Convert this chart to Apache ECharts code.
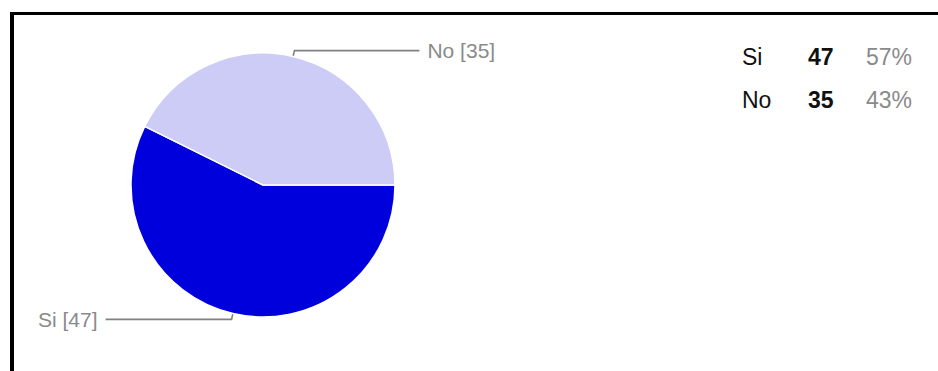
<!DOCTYPE html>
<html>
<head>
<meta charset="utf-8">
<script src="https://cdn.jsdelivr.net/npm/echarts@6/dist/echarts.min.js"></script>
<style>
  html, body { margin: 0; padding: 0; background: #fff; }
  #chart { width: 938px; height: 371px; }
</style>
</head>
<body>
<div id="chart"></div>
<script>
const categories = ['Si', 'No'];
const counts = [47, 35];
const colors = ['#0000DC', '#CCCCF7'];

const total = counts.reduce((a, b) => a + b, 0);
const FONT = '"Liberation Sans", Arial, sans-serif';

const chart = echarts.init(document.getElementById('chart'), null, { renderer: 'svg' });

const data = categories.map((name, i) => ({
  name: name,
  value: counts[i],
  itemStyle: { color: colors[i] },
  labelLine: { length: 6, length2: i === 0 ? 126 : 125 }
}));

chart.setOption({
  animation: false,
  backgroundColor: '#ffffff',
  legend: {
    orient: 'vertical',
    left: 732,
    top: 40,
    icon: 'none',
    itemWidth: 0,
    itemHeight: 0,
    itemGap: 20,
    selectedMode: false,
    data: categories,
    formatter: function (name) {
      const i = categories.indexOf(name);
      const pct = Math.round(counts[i] / total * 100) + '%';
      return '{a|' + name + '}{b|' + counts[i] + '}{c|' + pct + '}';
    },
    textStyle: {
      fontFamily: FONT,
      rich: {
        a: { width: 66, fontSize: 23, lineHeight: 25, color: '#111', fontFamily: FONT },
        b: { width: 58, fontSize: 23, lineHeight: 25, color: '#111', fontWeight: 'bold', fontFamily: FONT },
        c: { fontSize: 23, lineHeight: 25, color: '#8a8a8a', fontFamily: FONT }
      }
    }
  },
  graphic: [
    { type: 'rect', shape: { x: 10, y: 12, width: 928, height: 3 }, style: { fill: '#000' } },
    { type: 'rect', shape: { x: 10, y: 12, width: 4, height: 359 }, style: { fill: '#000' } }
  ],
  series: [{
    type: 'pie',
    center: [263, 185],
    radius: 132,
    startAngle: 0,
    clockwise: true,
    avoidLabelOverlap: false,
    emphasis: { disabled: true },
    itemStyle: { borderColor: '#ffffff', borderWidth: 1.5 },
    label: {
      show: true,
      position: 'outside',
      alignTo: 'none',
      distanceToLabelLine: 8,
      formatter: '{b} [{c}]',
      color: '#8a8a8a',
      fontSize: 21,
      fontFamily: FONT
    },
    labelLine: {
      show: true,
      smooth: false,
      lineStyle: { color: '#808080', width: 1.6 }
    },
    data: data
  }]
});
</script>
</body>
</html>
